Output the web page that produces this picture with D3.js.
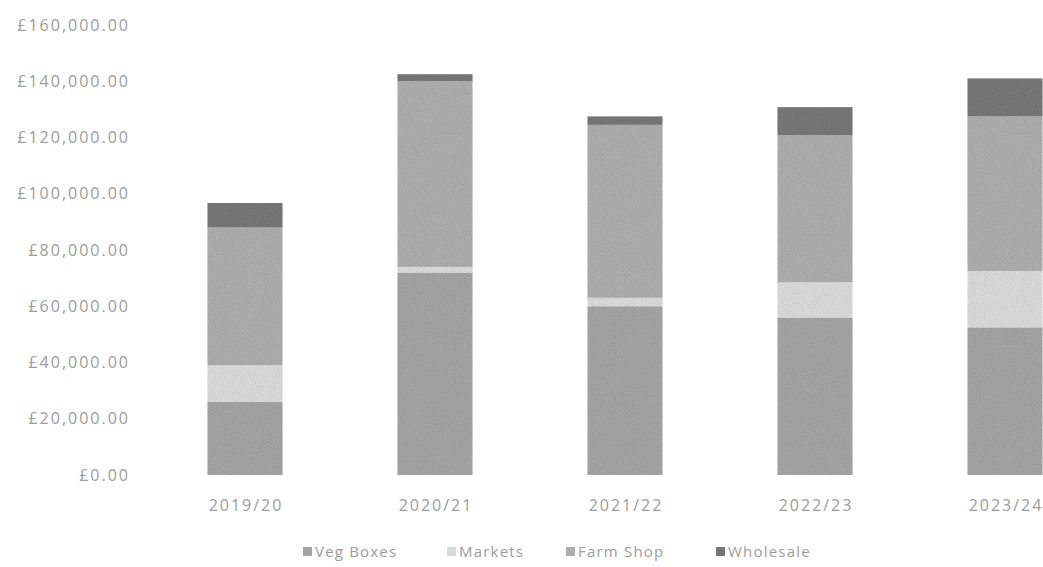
<!DOCTYPE html>
<html>
<head>
<meta charset="utf-8">
<script src="https://cdn.jsdelivr.net/npm/d3@7/dist/d3.min.js"></script>
<style>
  html, body { margin: 0; padding: 0; background: #fff; }
  svg { display: block; }
  text { font-family: "Open Sans", "DejaVu Sans", sans-serif; }
</style>
</head>
<body>
<svg id="chart" width="1043" height="567"></svg>
<script>
const categories = ["2019/20", "2020/21", "2021/22", "2022/23", "2023/24"];
const seriesNames = ["Veg Boxes", "Markets", "Farm Shop", "Wholesale"];
const vegBoxes  = [26000, 72000, 60000, 56000, 52500];
const markets   = [13000,  2000,  3000, 12500, 20000];
const farmShop  = [49000, 66000, 61500, 52300, 55000];
const wholesale = [ 8700,  2500,  3000, 10000, 13500];
const yTicks = [0, 20000, 40000, 60000, 80000, 100000, 120000, 140000, 160000];
const colors = ["#a4a4a4", "#dadada", "#adadad", "#777777"];

const svg = d3.select("#chart");
const seriesValues = [vegBoxes, markets, farmShop, wholesale];
const rows = categories.map((c, i) => {
  const r = { cat: c };
  seriesNames.forEach((s, j) => r[s] = seriesValues[j][i]);
  return r;
});
const stacked = d3.stack().keys(seriesNames)(rows);

const x = d3.scaleBand().domain(categories).range([150, 1100]).paddingInner(0.605).paddingOuter(0.3025);
const y = d3.scaleLinear().domain([0, 160000]).range([475, 25]);

// noise filter for scanned look
const defs = svg.append("defs");
const f = defs.append("filter").attr("id", "grain").attr("x", 0).attr("y", 0).attr("width", 1).attr("height", 1);
f.append("feTurbulence").attr("type", "fractalNoise").attr("baseFrequency", 0.9).attr("numOctaves", 1).attr("seed", 3).attr("result", "noise");
f.append("feColorMatrix").attr("in", "noise").attr("type", "matrix")
  .attr("values", "0 0 0 0 0  0 0 0 0 0  0 0 0 0 0  0 0 0 -1.2 0.75").attr("result", "dots");
f.append("feComposite").attr("in", "dots").attr("in2", "SourceGraphic").attr("operator", "in").attr("result", "dd");
f.append("feComponentTransfer").attr("in", "dd").attr("result", "dd2")
  .append("feFuncA").attr("type", "linear").attr("slope", 0.35);
const fm = f.append("feMerge");
fm.append("feMergeNode").attr("in", "SourceGraphic");
fm.append("feMergeNode").attr("in", "dd2");

const textStyle = sel => sel.attr("fill", "#9c9c9c")
  .style("font-size", "16px")
  .style("letter-spacing", "2px")
  .style("font-family", "'Open Sans', sans-serif");

// y axis labels
const yAxis = d3.axisLeft(y).tickValues(yTicks).tickSize(0).tickPadding(0)
  .tickFormat(d => "£" + d3.format(",.2f")(d));
const gy = svg.append("g").attr("transform", "translate(130,0)").call(yAxis);
gy.select(".domain").remove();
gy.selectAll("text").call(textStyle);

// bars
const gBars = svg.append("g").attr("filter", "url(#grain)");
stacked.forEach((layer, j) => {
  gBars.append("g").attr("fill", colors[j])
    .selectAll("rect").data(layer).join("rect")
    .attr("x", d => x(d.data.cat))
    .attr("width", x.bandwidth())
    .attr("y", d => y(d[1]))
    .attr("height", d => y(d[0]) - y(d[1]));
});

// x axis labels
const xAxis = d3.axisBottom(x).tickSize(0).tickPadding(0);
const gx = svg.append("g").attr("transform", "translate(1,500)").call(xAxis);
gx.select(".domain").remove();
gx.selectAll("text").call(textStyle);

// legend
const legendX = [303, 447, 566, 716];
const lg = svg.append("g");
seriesNames.forEach((s, j) => {
  const g = lg.append("g").attr("transform", `translate(${legendX[j]},551)`);
  g.append("rect").attr("x", 0).attr("y", -4).attr("width", 9).attr("height", 9).attr("fill", colors[j]);
  g.append("text").attr("x", 12).attr("y", 6).call(textStyle)
    .style("font-size", "15px").style("letter-spacing", "1.2px").text(s);
});
</script>
</body>
</html>
